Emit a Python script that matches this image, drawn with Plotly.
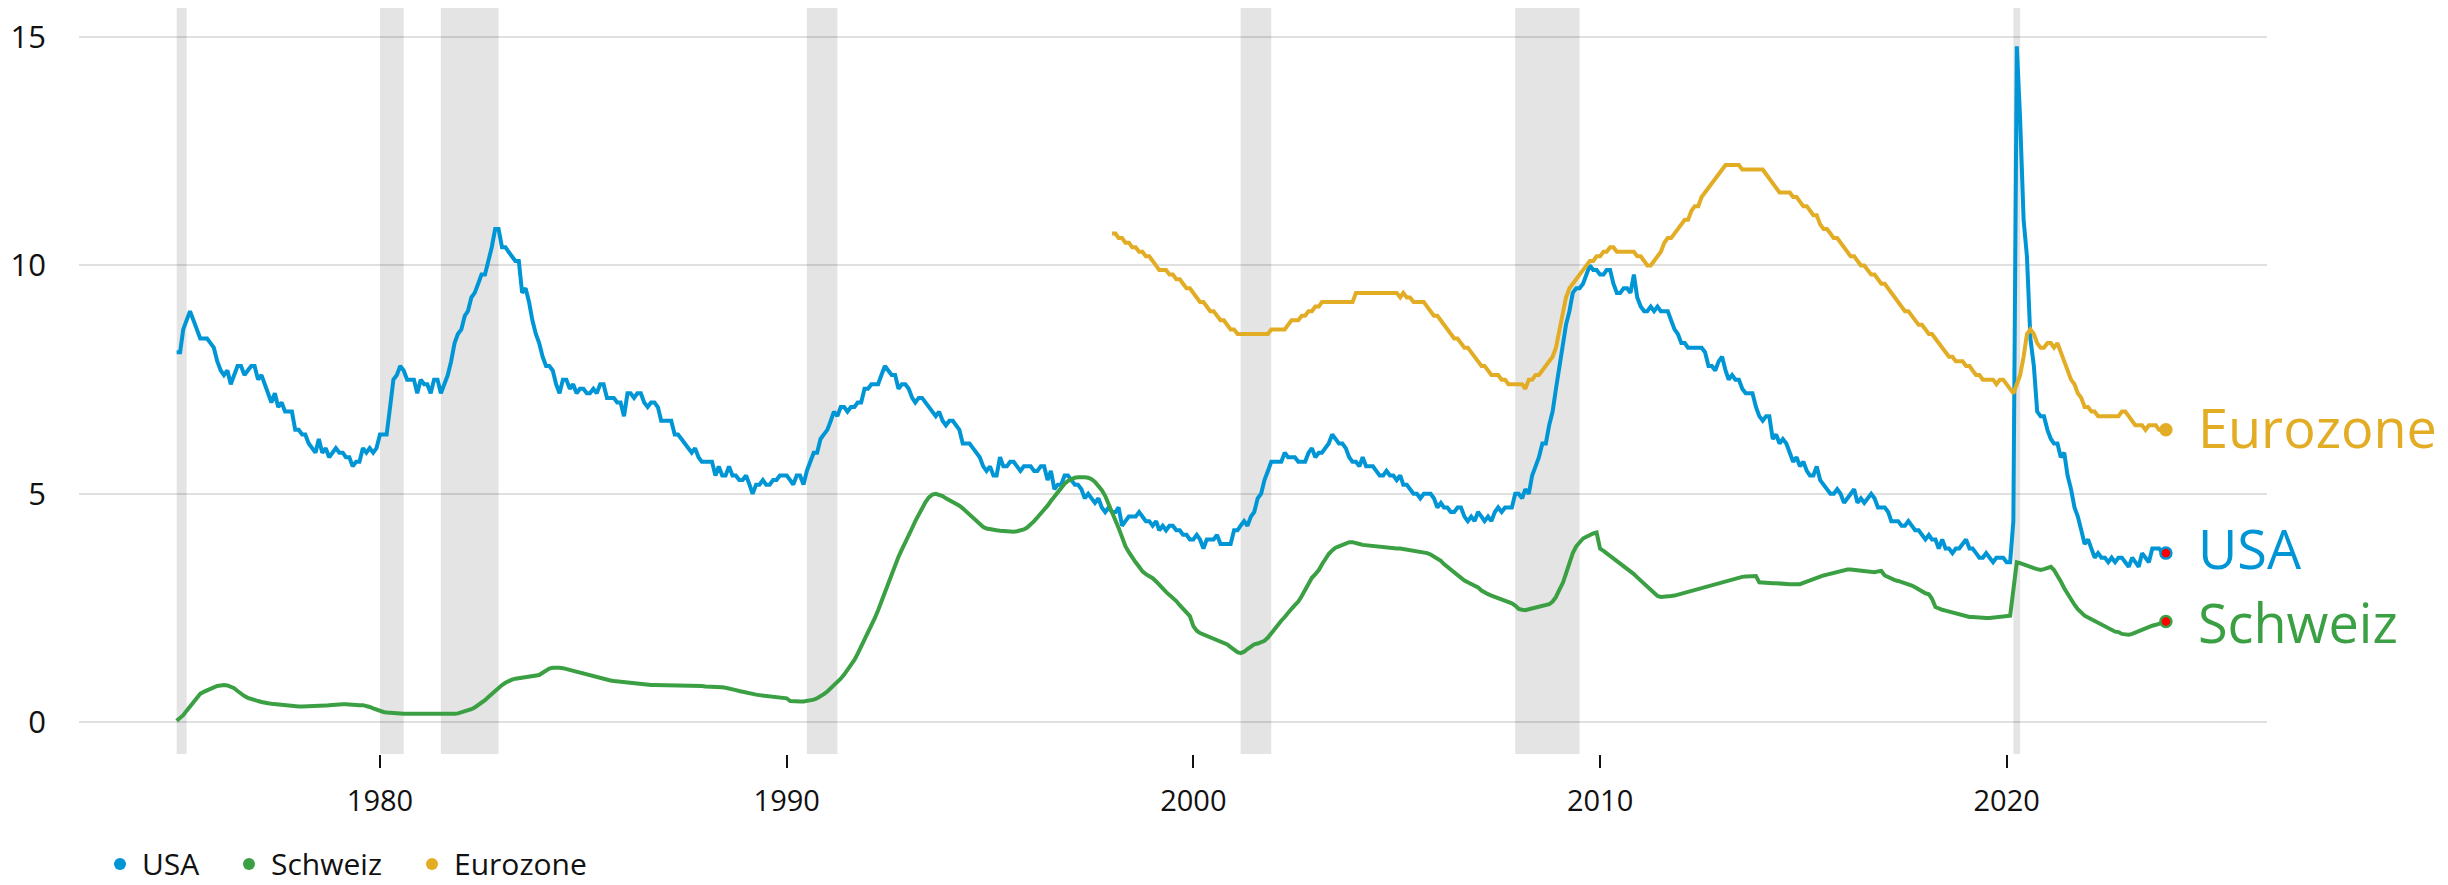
import pandas as pd
import plotly.graph_objects as go

# ---------------- data (monthly, %) ----------------
usa = [
    8.1, 8.1, 8.6, 8.8, 9.0, 8.8, 8.6, 8.4, 8.4, 8.4, 8.3, 8.2,   # 1975
    7.9, 7.7, 7.6, 7.7, 7.4, 7.6, 7.8, 7.8, 7.6, 7.7, 7.8, 7.8,   # 1976
    7.5, 7.6, 7.4, 7.2, 7.0, 7.2, 6.9, 7.0, 6.8, 6.8, 6.8, 6.4,   # 1977
    6.4, 6.3, 6.3, 6.1, 6.0, 5.9, 6.2, 5.9, 6.0, 5.8, 5.9, 6.0,   # 1978
    5.9, 5.9, 5.8, 5.8, 5.6, 5.7, 5.7, 6.0, 5.9, 6.0, 5.9, 6.0,   # 1979
    6.3, 6.3, 6.3, 6.9, 7.5, 7.6, 7.8, 7.7, 7.5, 7.5, 7.5, 7.2,   # 1980
    7.5, 7.4, 7.4, 7.2, 7.5, 7.5, 7.2, 7.4, 7.6, 7.9, 8.3, 8.5,   # 1981
    8.6, 8.9, 9.0, 9.3, 9.4, 9.6, 9.8, 9.8, 10.1, 10.4, 10.8, 10.8,  # 1982
    10.4, 10.4, 10.3, 10.2, 10.1, 10.1, 9.4, 9.5, 9.2, 8.8, 8.5, 8.3,  # 1983
    8.0, 7.8, 7.8, 7.7, 7.4, 7.2, 7.5, 7.5, 7.3, 7.4, 7.2, 7.3,   # 1984
    7.3, 7.2, 7.2, 7.3, 7.2, 7.4, 7.4, 7.1, 7.1, 7.1, 7.0, 7.0,   # 1985
    6.7, 7.2, 7.2, 7.1, 7.2, 7.2, 7.0, 6.9, 7.0, 7.0, 6.9, 6.6,   # 1986
    6.6, 6.6, 6.6, 6.3, 6.3, 6.2, 6.1, 6.0, 5.9, 6.0, 5.8, 5.7,   # 1987
    5.7, 5.7, 5.7, 5.4, 5.6, 5.4, 5.4, 5.6, 5.4, 5.4, 5.3, 5.3,   # 1988
    5.4, 5.2, 5.0, 5.2, 5.2, 5.3, 5.2, 5.2, 5.3, 5.3, 5.4, 5.4,   # 1989
    5.4, 5.3, 5.2, 5.4, 5.4, 5.2, 5.5, 5.7, 5.9, 5.9, 6.2, 6.3,   # 1990
    6.4, 6.6, 6.8, 6.7, 6.9, 6.9, 6.8, 6.9, 6.9, 7.0, 7.0, 7.3,   # 1991
    7.3, 7.4, 7.4, 7.4, 7.6, 7.8, 7.7, 7.6, 7.6, 7.3, 7.4, 7.4,   # 1992
    7.3, 7.1, 7.0, 7.1, 7.1, 7.0, 6.9, 6.8, 6.7, 6.8, 6.6, 6.5,   # 1993
    6.6, 6.6, 6.5, 6.4, 6.1, 6.1, 6.1, 6.0, 5.9, 5.8, 5.6, 5.5,   # 1994
    5.6, 5.4, 5.4, 5.8, 5.6, 5.6, 5.7, 5.7, 5.6, 5.5, 5.6, 5.6,   # 1995
    5.6, 5.5, 5.5, 5.6, 5.6, 5.3, 5.5, 5.1, 5.2, 5.2, 5.4, 5.4,   # 1996
    5.3, 5.2, 5.2, 5.1, 4.9, 5.0, 4.9, 4.8, 4.9, 4.7, 4.6, 4.7,   # 1997
    4.6, 4.6, 4.7, 4.3, 4.4, 4.5, 4.5, 4.5, 4.6, 4.5, 4.4, 4.4,   # 1998
    4.3, 4.4, 4.2, 4.3, 4.2, 4.3, 4.3, 4.2, 4.2, 4.1, 4.1, 4.0,   # 1999
    4.0, 4.1, 4.0, 3.8, 4.0, 4.0, 4.0, 4.1, 3.9, 3.9, 3.9, 3.9,   # 2000
    4.2, 4.2, 4.3, 4.4, 4.3, 4.5, 4.6, 4.9, 5.0, 5.3, 5.5, 5.7,   # 2001
    5.7, 5.7, 5.7, 5.9, 5.8, 5.8, 5.8, 5.7, 5.7, 5.7, 5.9, 6.0,   # 2002
    5.8, 5.9, 5.9, 6.0, 6.1, 6.3, 6.2, 6.1, 6.1, 6.0, 5.8, 5.7,   # 2003
    5.7, 5.6, 5.8, 5.6, 5.6, 5.6, 5.5, 5.4, 5.4, 5.5, 5.4, 5.4,   # 2004
    5.3, 5.4, 5.2, 5.2, 5.1, 5.0, 5.0, 4.9, 5.0, 5.0, 5.0, 4.9,   # 2005
    4.7, 4.8, 4.7, 4.7, 4.6, 4.6, 4.7, 4.7, 4.5, 4.4, 4.5, 4.4,   # 2006
    4.6, 4.5, 4.4, 4.5, 4.4, 4.6, 4.7, 4.6, 4.7, 4.7, 4.7, 5.0,   # 2007
    5.0, 4.9, 5.1, 5.0, 5.4, 5.6, 5.8, 6.1, 6.1, 6.5, 6.8, 7.3,   # 2008
    7.8, 8.3, 8.7, 9.0, 9.4, 9.5, 9.5, 9.6, 9.8, 10.0, 9.9, 9.9,  # 2009
    9.8, 9.8, 9.9, 9.9, 9.6, 9.4, 9.4, 9.5, 9.5, 9.4, 9.8, 9.3,   # 2010
    9.1, 9.0, 9.0, 9.1, 9.0, 9.1, 9.0, 9.0, 9.0, 8.8, 8.6, 8.5,   # 2011
    8.3, 8.3, 8.2, 8.2, 8.2, 8.2, 8.2, 8.1, 7.8, 7.8, 7.7, 7.9,   # 2012
    8.0, 7.7, 7.5, 7.6, 7.5, 7.5, 7.3, 7.2, 7.2, 7.2, 6.9, 6.7,   # 2013
    6.6, 6.7, 6.7, 6.2, 6.3, 6.1, 6.2, 6.1, 5.9, 5.7, 5.8, 5.6,   # 2014
    5.7, 5.5, 5.4, 5.4, 5.6, 5.3, 5.2, 5.1, 5.0, 5.0, 5.1, 5.0,   # 2015
    4.8, 4.9, 5.0, 5.1, 4.8, 4.9, 4.8, 4.9, 5.0, 4.9, 4.7, 4.7,   # 2016
    4.7, 4.6, 4.4, 4.4, 4.4, 4.3, 4.3, 4.4, 4.3, 4.2, 4.2, 4.1,   # 2017
    4.0, 4.1, 4.0, 4.0, 3.8, 4.0, 3.8, 3.8, 3.7, 3.8, 3.8, 3.9,   # 2018
    4.0, 3.8, 3.8, 3.7, 3.6, 3.6, 3.7, 3.6, 3.5, 3.6, 3.6, 3.6,   # 2019
    3.5, 3.5, 4.4, 14.8, 13.2, 11.0, 10.2, 8.4, 7.8, 6.8, 6.7, 6.7,  # 2020
    6.4, 6.2, 6.1, 6.1, 5.8, 5.9, 5.4, 5.1, 4.7, 4.5, 4.2, 3.9,   # 2021
    4.0, 3.8, 3.6, 3.7, 3.6, 3.6, 3.5, 3.6, 3.5, 3.6, 3.6, 3.5,   # 2022
    3.4, 3.6, 3.5, 3.4, 3.7, 3.6, 3.5, 3.8, 3.8, 3.8, 3.7, 3.7,   # 2023
]

schweiz = [
    0.03, 0.08, 0.15, 0.25, 0.35, 0.45, 0.55, 0.62, 0.66, 0.70, 0.73, 0.76,  # 1975
    0.79, 0.81, 0.81, 0.80, 0.78, 0.74, 0.68, 0.62, 0.57, 0.53, 0.50, 0.48,  # 1976
    0.46, 0.44, 0.42, 0.41, 0.40, 0.39, 0.38, 0.37, 0.36, 0.35, 0.35, 0.34,  # 1977
    0.34, 0.34, 0.34, 0.34, 0.34, 0.34, 0.34, 0.35, 0.36, 0.37, 0.38, 0.38,  # 1978
    0.39, 0.39, 0.39, 0.38, 0.38, 0.37, 0.37, 0.37, 0.36, 0.33, 0.30, 0.27,  # 1979
    0.24, 0.22, 0.21, 0.20, 0.20, 0.19, 0.19, 0.18, 0.18, 0.18, 0.18, 0.18,  # 1980
    0.18, 0.17, 0.17, 0.17, 0.16, 0.16, 0.16, 0.16, 0.16, 0.17, 0.18, 0.19,  # 1981
    0.21, 0.23, 0.25, 0.28, 0.32, 0.37, 0.42, 0.48, 0.55, 0.62, 0.68, 0.75,  # 1982
    0.81, 0.86, 0.90, 0.93, 0.95, 0.96, 0.97, 0.97, 0.98, 0.99, 1.00, 1.03,  # 1983
    1.08, 1.13, 1.17, 1.19, 1.20, 1.19, 1.18, 1.16, 1.14, 1.12, 1.09, 1.07,  # 1984
    1.05, 1.03, 1.01, 0.99, 0.97, 0.95, 0.93, 0.92, 0.91, 0.90, 0.89, 0.88,  # 1985
    0.87, 0.86, 0.85, 0.84, 0.83, 0.82, 0.82, 0.81, 0.81, 0.81, 0.81, 0.81,  # 1986
    0.81, 0.81, 0.81, 0.81, 0.81, 0.81, 0.81, 0.81, 0.80, 0.80, 0.80, 0.79,  # 1987
    0.78, 0.78, 0.77, 0.77, 0.77, 0.76, 0.75, 0.74, 0.72, 0.70, 0.68, 0.66,  # 1988
    0.64, 0.62, 0.61, 0.60, 0.59, 0.58, 0.57, 0.56, 0.55, 0.55, 0.54, 0.53,  # 1989
    0.52, 0.46, 0.45, 0.45, 0.45, 0.45, 0.46, 0.47, 0.49, 0.52, 0.56, 0.61,  # 1990
    0.67, 0.74, 0.80, 0.87, 0.95, 1.04, 1.14, 1.24, 1.36, 1.50, 1.65, 1.80,  # 1991
    1.95, 2.10, 2.27, 2.45, 2.65, 2.85, 3.05, 3.25, 3.45, 3.62, 3.78, 3.95,  # 1992
    4.10, 4.25, 4.40, 4.55, 4.70, 4.82, 4.92, 4.98, 5.00, 4.98, 4.95, 4.90,  # 1993
    4.86, 4.83, 4.79, 4.74, 4.68, 4.61, 4.54, 4.46, 4.38, 4.32, 4.27, 4.24,  # 1994
    4.22, 4.21, 4.20, 4.19, 4.18, 4.18, 4.17, 4.17, 4.18, 4.19, 4.22, 4.26,  # 1995
    4.32, 4.40, 4.48, 4.56, 4.64, 4.74, 4.84, 4.94, 5.05, 5.15, 5.22, 5.28,  # 1996
    5.32, 5.35, 5.36, 5.37, 5.36, 5.35, 5.32, 5.26, 5.18, 5.08, 4.95, 4.78,  # 1997
    4.62, 4.45, 4.25, 4.05, 3.85, 3.72, 3.60, 3.50, 3.40, 3.30, 3.24, 3.20,  # 1998
    3.15, 3.08, 3.00, 2.92, 2.85, 2.78, 2.72, 2.65, 2.56, 2.48, 2.40, 2.32,  # 1999
    2.10, 2.00, 1.95, 1.92, 1.88, 1.85, 1.83, 1.81, 1.78, 1.75, 1.70, 1.64,  # 2000
    1.58, 1.53, 1.51, 1.54, 1.60, 1.66, 1.70, 1.72, 1.74, 1.78, 1.85, 1.95,  # 2001
    2.05, 2.14, 2.22, 2.30, 2.40, 2.48, 2.56, 2.64, 2.76, 2.90, 3.04, 3.16,  # 2002
    3.24, 3.33, 3.45, 3.58, 3.68, 3.76, 3.82, 3.85, 3.88, 3.92, 3.94, 3.94,  # 2003
    3.93, 3.90, 3.88, 3.87, 3.87, 3.86, 3.85, 3.83, 3.82, 3.82, 3.81, 3.80,  # 2004
    3.80, 3.80, 3.79, 3.78, 3.77, 3.76, 3.75, 3.74, 3.72, 3.70, 3.67, 3.63,  # 2005
    3.59, 3.53, 3.46, 3.40, 3.33, 3.27, 3.21, 3.15, 3.10, 3.06, 3.03, 3.00,  # 2006
    2.95, 2.88, 2.83, 2.80, 2.77, 2.74, 2.71, 2.68, 2.66, 2.64, 2.60, 2.55,  # 2007
    2.48, 2.46, 2.45, 2.47, 2.49, 2.51, 2.52, 2.53, 2.55, 2.58, 2.64, 2.74,  # 2008
    2.90, 3.05, 3.25, 3.48, 3.70, 3.85, 3.95, 4.02, 4.06, 4.10, 4.13, 4.15,  # 2009
    3.80, 3.75, 3.70, 3.64, 3.58, 3.52, 3.46, 3.41, 3.36, 3.30, 3.24, 3.17,  # 2010
    3.10, 3.04, 2.97, 2.90, 2.82, 2.76, 2.74, 2.74, 2.75, 2.76, 2.77, 2.79,  # 2011
    2.81, 2.83, 2.85, 2.87, 2.89, 2.91, 2.93, 2.95, 2.98, 3.00, 3.02, 3.05,  # 2012
    3.07, 3.09, 3.11, 3.13, 3.15, 3.17, 3.18, 3.19, 3.20, 3.20, 3.20, 3.06,  # 2013
    3.05, 3.05, 3.04, 3.04, 3.04, 3.03, 3.03, 3.03, 3.02, 3.02, 3.02, 3.02,  # 2014
    3.05, 3.08, 3.11, 3.14, 3.17, 3.19, 3.21, 3.23, 3.25, 3.27, 3.29, 3.31,  # 2015
    3.33, 3.34, 3.34, 3.33, 3.32, 3.31, 3.30, 3.29, 3.28, 3.28, 3.30, 3.31,  # 2016
    3.21, 3.17, 3.14, 3.11, 3.09, 3.07, 3.05, 3.02, 2.99, 2.95, 2.90, 2.86,  # 2017
    2.82, 2.80, 2.70, 2.52, 2.48, 2.46, 2.44, 2.42, 2.40, 2.37, 2.35, 2.33,  # 2018
    2.31, 2.30, 2.30, 2.29, 2.29, 2.29, 2.28, 2.28, 2.29, 2.29, 2.30, 2.30,  # 2019
    2.31, 2.33, 2.90, 3.50, 3.48, 3.45, 3.41, 3.39, 3.37, 3.35, 3.33, 3.35,  # 2020
    3.38, 3.40, 3.33, 3.22, 3.08, 2.93, 2.80, 2.68, 2.57, 2.47, 2.39, 2.33,  # 2021
    2.29, 2.25, 2.21, 2.17, 2.13, 2.09, 2.05, 2.01, 1.98, 1.97, 1.93, 1.92,  # 2022
    1.91, 1.93, 1.96, 1.99, 2.02, 2.05, 2.08, 2.11, 2.13, 2.15, 2.17, 2.20,  # 2023
]

eurozone = [
    10.7, 10.7, 10.6, 10.6, 10.5, 10.5, 10.4, 10.4, 10.3, 10.3, 10.2, 10.2,  # 1998
    10.1, 10.0, 9.9, 9.9, 9.9, 9.8, 9.8, 9.7, 9.7, 9.6, 9.5, 9.5,            # 1999
    9.4, 9.3, 9.2, 9.2, 9.1, 9.0, 9.0, 8.9, 8.8, 8.8, 8.7, 8.6,              # 2000
    8.6, 8.5, 8.5, 8.5, 8.5, 8.5, 8.5, 8.5, 8.5, 8.5, 8.5, 8.6,              # 2001
    8.6, 8.6, 8.6, 8.6, 8.7, 8.8, 8.8, 8.8, 8.9, 8.9, 9.0, 9.0,              # 2002
    9.1, 9.1, 9.2, 9.2, 9.2, 9.2, 9.2, 9.2, 9.2, 9.2, 9.2, 9.2,              # 2003
    9.4, 9.4, 9.4, 9.4, 9.4, 9.4, 9.4, 9.4, 9.4, 9.4, 9.4, 9.4,              # 2004
    9.4, 9.3, 9.4, 9.3, 9.3, 9.2, 9.2, 9.2, 9.2, 9.1, 9.0, 8.9,              # 2005
    8.9, 8.8, 8.7, 8.6, 8.5, 8.4, 8.4, 8.3, 8.2, 8.2, 8.1, 8.0,              # 2006
    7.9, 7.8, 7.8, 7.7, 7.6, 7.6, 7.6, 7.5, 7.5, 7.4, 7.4, 7.4,              # 2007
    7.4, 7.4, 7.3, 7.5, 7.5, 7.6, 7.6, 7.7, 7.8, 7.9, 8.0, 8.2,              # 2008
    8.6, 9.0, 9.3, 9.5, 9.6, 9.7, 9.8, 9.9, 10.0, 10.1, 10.1, 10.2,          # 2009
    10.2, 10.3, 10.3, 10.4, 10.4, 10.3, 10.3, 10.3, 10.3, 10.3, 10.3, 10.2,  # 2010
    10.2, 10.1, 10.0, 10.0, 10.1, 10.2, 10.3, 10.5, 10.6, 10.6, 10.7, 10.8,  # 2011
    10.9, 11.0, 11.0, 11.2, 11.3, 11.3, 11.5, 11.6, 11.7, 11.8, 11.9, 12.0,  # 2012
    12.1, 12.2, 12.2, 12.2, 12.2, 12.2, 12.1, 12.1, 12.1, 12.1, 12.1, 12.1,  # 2013
    12.1, 12.0, 11.9, 11.8, 11.7, 11.6, 11.6, 11.6, 11.6, 11.5, 11.5, 11.4,  # 2014
    11.3, 11.3, 11.2, 11.1, 11.1, 10.9, 10.8, 10.8, 10.7, 10.6, 10.6, 10.5,  # 2015
    10.4, 10.3, 10.2, 10.2, 10.1, 10.0, 10.0, 9.9, 9.8, 9.8, 9.7, 9.6,       # 2016
    9.6, 9.5, 9.4, 9.3, 9.2, 9.1, 9.0, 9.0, 8.9, 8.8, 8.7, 8.7,              # 2017
    8.6, 8.5, 8.5, 8.4, 8.3, 8.2, 8.1, 8.0, 8.0, 7.9, 7.9, 7.9,              # 2018
    7.8, 7.8, 7.7, 7.6, 7.6, 7.5, 7.5, 7.5, 7.5, 7.4, 7.5, 7.5,              # 2019
    7.4, 7.3, 7.2, 7.4, 7.6, 8.0, 8.5, 8.6, 8.5, 8.3, 8.2, 8.2,              # 2020
    8.3, 8.3, 8.2, 8.3, 8.1, 7.9, 7.7, 7.5, 7.4, 7.2, 7.1, 6.9,              # 2021
    6.9, 6.8, 6.8, 6.7, 6.7, 6.7, 6.7, 6.7, 6.7, 6.7, 6.8, 6.8,              # 2022
    6.7, 6.6, 6.5, 6.5, 6.5, 6.4, 6.5, 6.5, 6.5, 6.4, 6.4, 6.4,              # 2023
]

usa_start = "1975-01-01"
schweiz_start = "1975-01-01"
eurozone_start = "1998-01-01"

recession_start = ["1975-01-01", "1980-01-01", "1981-07-01", "1990-07-01",
                   "2001-03-01", "2007-12-01", "2020-03-01"]
recession_end = ["1975-04-01", "1980-08-01", "1982-12-01", "1991-04-01",
                 "2001-12-01", "2009-07-01", "2020-05-01"]

series_names = ["USA", "Schweiz", "Eurozone"]
series_colors = ["#0096d6", "#3ba043", "#e2ad25"]

y_ticks = [0, 5, 10, 15]

# ---------------- layout constants (pixels, page body has an 8px margin) ----------------
W, H = 2440, 877
ML, MR, MT, MB = 71, 181, 0, 131
PW, PH = W - ML - MR, H - MT - MB
FONT = "Open Sans"
legend_px_x = [112, 241, 424]   # legend dot centres (figure pixels)
legend_px_y = 856


def px_to_paper_x(px):
    return (px - ML) / PW


def px_to_paper_y(py):
    return (H - MB - py) / PH


usa_x = pd.date_range(usa_start, periods=len(usa), freq="MS")
ch_x = pd.date_range(schweiz_start, periods=len(schweiz), freq="MS")
ez_x = pd.date_range(eurozone_start, periods=len(eurozone), freq="MS")

fig = go.Figure()

for s, e in zip(recession_start, recession_end):
    fig.add_shape(type="rect", xref="x", yref="paper", x0=s, x1=e, y0=0, y1=1,
                  fillcolor="#e4e4e4", line_width=0, layer="below")

data = [(usa_x, usa), (ch_x, schweiz), (ez_x, eurozone)]
for (xs, ys), name, col in zip(data, series_names, series_colors):
    fig.add_trace(go.Scatter(x=xs, y=ys, mode="lines", name=name,
                             line=dict(color=col, width=4), showlegend=False,
                             hoverinfo="skip"))

# end markers
end_fill = ["#ff0000", "#ff0000", series_colors[2]]
for (xs, ys), name, col, fill in zip(data, series_names, series_colors, end_fill):
    fig.add_trace(go.Scatter(x=[xs[-1]], y=[ys[-1]], mode="markers", showlegend=False,
                             marker=dict(size=11, color=fill, line=dict(color=col, width=2.5)),
                             hoverinfo="skip"))

# end labels
label_shift = {"USA": 5, "Schweiz": 0, "Eurozone": 3}
for (xs, ys), name, col in zip(data, series_names, series_colors):
    fig.add_annotation(x=xs[-1], y=ys[-1], text=name, showarrow=False,
                       xanchor="left", yanchor="middle", xshift=30,
                       yshift=label_shift[name],
                       font=dict(family=FONT, size=54, color=col))

# legend (drawn manually at the bottom)
for name, col, lx in zip(series_names, series_colors, legend_px_x):
    cx, cy = px_to_paper_x(lx), px_to_paper_y(legend_px_y)
    fig.add_shape(type="circle", xref="paper", yref="paper",
                  xsizemode="pixel", ysizemode="pixel", xanchor=cx, yanchor=cy,
                  x0=-6, x1=6, y0=-6, y1=6, fillcolor=col, line_width=0)
    fig.add_annotation(x=px_to_paper_x(lx + 20), y=cy, xref="paper", yref="paper",
                       text=name, showarrow=False, xanchor="left", yanchor="middle",
                       font=dict(family=FONT, size=30, color="#111111"))

fig.update_layout(
    width=W, height=H,
    margin=dict(l=ML, r=MR, t=MT, b=MB, autoexpand=False),
    paper_bgcolor="white", plot_bgcolor="white",
    font=dict(family=FONT, size=30, color="#111111"),
    showlegend=False,
)

fig.update_xaxes(type="date", range=["1972-08-07", "2026-05-27"],
                 tick0="1980-01-01", dtick="M120", tickformat="%Y",
                 showgrid=False, zeroline=False, showline=False, automargin=False,
                 ticks="outside", ticklen=13, tickwidth=2, tickcolor="#111111",
                 ticklabelstandoff=8,
                 tickfont=dict(family=FONT, size=29, color="#111111"))

fig.update_yaxes(range=[-0.70, 15.64], tickvals=y_ticks,
                 showgrid=True, gridcolor="rgba(0,0,0,0.12)", gridwidth=2,
                 zeroline=False, showline=False, ticks="", automargin=False,
                 ticklabelstandoff=32,
                 tickfont=dict(family=FONT, size=31, color="#111111"))

fig.write_html("out.html")
